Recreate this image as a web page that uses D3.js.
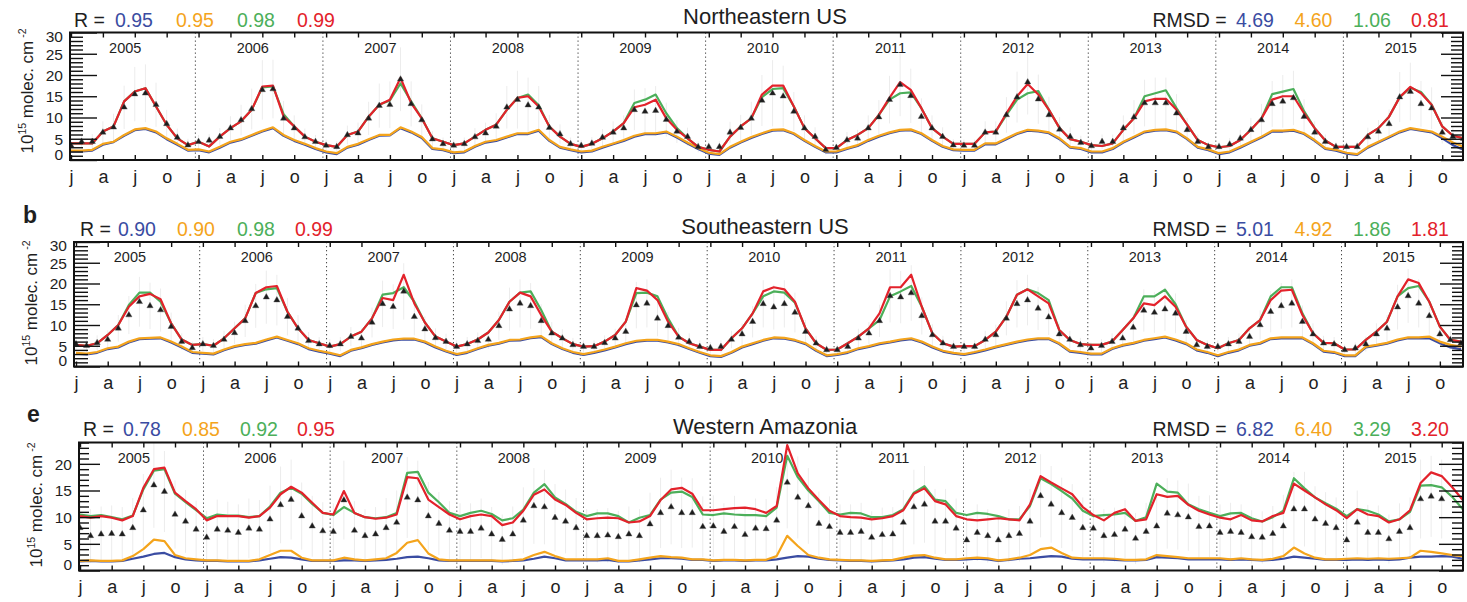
<!DOCTYPE html>
<html>
<head>
<meta charset="utf-8">
<script src="https://cdn.jsdelivr.net/npm/d3@7"></script>
<style>
  html, body { margin: 0; padding: 0; background: #fff; }
  svg text { font-family: "Liberation Sans", Arial, Helvetica, sans-serif; }
</style>
</head>
<body>
<svg id="chart" width="1467" height="602"></svg>
<script>
// Monthly columns (Jan 2005 - Dec 2015), values in 10^15 molec. cm^-2
const years = [2005, 2006, 2007, 2008, 2009, 2010, 2011, 2012, 2013, 2014, 2015];
const quarterLetters = ["j", "a", "j", "o"];

// ---------- Northeastern US ----------
const neR = ["0.95", "0.95", "0.98", "0.99"];
const neRmsd = ["4.69", "4.60", "1.06", "0.81"];
const neRed = [
  3.9,3.9,3.9,6.7,7.9,13.8,16.1,16.9,12.6,8.3,5.1,3.5,
  4.3,3.2,5.5,7.5,9.1,11.8,17.3,17.5,10.2,7.9,5.5,4.3,
  3.5,3.1,5.9,6.7,10.2,13.0,14.2,19.3,13.4,9.8,5.1,4.3,
  3.5,3.9,5.5,7.1,8.3,11.8,14.6,15.0,12.6,7.9,5.5,3.8,
  3.1,3.8,5.1,6.7,8.7,12.4,13.0,14.2,9.8,7.1,5.1,3.1,
  2.4,2.0,5.5,7.9,9.8,15.4,17.5,17.5,12.6,7.5,5.1,2.8,
  2.8,4.7,5.9,7.5,10.6,14.6,18.3,16.5,12.2,7.5,5.5,3.8,
  3.8,3.8,6.5,6.7,11.0,15.0,17.9,15.4,11.8,7.5,4.9,4.3,
  3.5,3.3,3.9,7.1,9.8,13.8,14.4,14.4,11.8,8.3,4.7,3.5,
  3.0,3.3,4.7,7.1,9.8,14.2,15.0,15.0,11.0,7.5,4.6,3.1,
  3.1,3.1,5.9,7.5,10.2,14.8,17.2,15.7,13.0,7.9,5.7,5.1
];
const neGreen = [
  3.9,3.9,3.9,6.7,7.9,13.8,16.1,16.9,12.6,8.3,5.1,3.5,
  4.3,3.2,5.5,7.5,9.1,11.8,17.1,17.3,10.8,7.9,5.5,4.3,
  3.5,3.1,5.9,6.7,10.2,13.0,14.0,18.0,13.8,9.8,5.1,4.3,
  3.5,3.9,5.5,7.1,8.3,11.8,14.6,15.4,12.9,7.9,5.5,3.8,
  3.1,3.8,5.1,6.7,8.7,13.4,14.2,15.4,11.0,7.5,5.1,3.1,
  2.4,2.0,5.5,7.9,9.8,14.8,16.7,16.9,12.6,7.5,5.1,2.8,
  2.8,4.7,5.9,7.5,10.6,14.2,15.7,15.9,12.2,7.5,5.5,3.8,
  3.8,3.8,6.5,6.7,10.6,14.2,15.7,16.2,11.8,7.5,4.9,4.3,
  3.5,3.3,3.9,7.1,9.8,15.0,15.7,16.4,12.2,8.3,4.7,3.5,
  3.0,3.3,4.7,7.1,9.8,15.5,16.1,16.7,11.5,7.5,4.6,3.1,
  3.1,3.1,5.9,7.5,10.2,14.8,17.0,16.0,13.0,7.9,5.7,5.1
];
const neOrange = [
  2.2,2.2,2.4,3.8,4.3,5.9,7.2,7.5,6.7,5.1,3.8,2.4,
  2.5,2.0,3.1,4.3,4.9,5.9,6.9,7.7,5.9,4.7,3.8,2.8,
  2.0,1.6,3.1,3.8,4.9,5.9,5.9,7.7,6.7,5.4,2.8,2.5,
  1.8,2.0,3.3,4.3,4.7,5.5,6.3,6.3,7.1,4.7,3.1,2.5,
  2.0,2.2,3.1,3.9,4.7,5.7,6.3,6.3,6.7,5.5,4.1,2.8,
  1.7,1.4,3.1,4.3,5.4,6.3,7.1,7.2,6.3,4.7,3.3,2.0,
  2.0,2.8,3.5,4.7,5.7,6.5,7.1,7.2,6.3,4.7,3.3,2.5,
  2.4,2.4,3.9,3.9,5.1,6.3,7.1,6.9,6.5,5.1,3.1,2.8,
  2.0,2.0,2.8,4.3,5.5,6.7,7.1,7.2,6.7,5.1,3.1,2.5,
  1.6,2.0,3.1,4.3,5.5,6.9,6.9,7.1,6.3,4.7,2.8,2.4,
  1.7,1.4,3.1,4.3,5.5,6.7,7.5,7.1,6.7,5.5,4.1,3.1
];
const neBlue = [
  2.0,2.0,2.2,3.6,4.2,5.7,7.0,7.3,6.5,4.9,3.6,2.2,
  2.3,1.8,2.9,4.1,4.7,5.7,6.7,7.5,5.7,4.5,3.6,2.6,
  1.8,1.4,2.9,3.6,4.7,5.7,5.8,7.5,6.5,5.2,2.6,2.3,
  1.6,1.8,3.1,4.1,4.5,5.3,6.1,6.1,6.9,4.5,2.9,2.3,
  1.8,2.0,2.9,3.7,4.5,5.5,6.1,6.1,6.5,5.3,3.9,2.6,
  1.5,1.2,2.9,4.1,5.2,6.1,6.9,7.0,6.1,4.5,3.1,1.8,
  1.8,2.6,3.3,4.5,5.5,6.3,6.9,7.0,6.1,4.5,3.1,2.3,
  2.2,2.2,3.7,3.7,4.9,6.1,6.9,6.7,6.3,4.9,2.9,2.6,
  1.8,1.8,2.6,4.1,5.3,6.5,6.9,7.0,6.5,4.9,2.9,2.3,
  1.4,1.8,2.9,4.1,5.3,6.7,6.7,6.9,6.1,4.5,2.6,2.2,
  1.5,1.2,2.9,4.1,5.3,6.5,7.3,6.9,6.5,5.1,3.5,2.4
];
const neObs = [
  3.4,4.3,4.3,6.5,7.7,12.4,15.5,15.7,13.0,8.5,5.3,3.5,
  4.3,4.6,5.5,7.5,9.4,12.0,16.5,16.7,9.8,7.5,5.4,4.3,
  3.4,3.1,5.9,6.3,9.8,12.8,13.0,19.0,13.2,9.4,4.9,3.8,
  3.4,3.8,5.4,6.3,7.9,12.4,14.2,12.9,12.4,7.6,6.1,3.8,
  3.4,3.9,5.3,6.5,7.5,11.8,11.4,11.6,9.5,6.7,5.5,3.1,
  3.1,3.1,6.5,7.6,9.8,14.0,15.7,15.0,11.4,7.5,5.5,2.4,
  2.9,4.7,5.1,7.5,10.1,14.2,17.7,15.1,10.2,7.5,5.5,3.5,
  3.4,3.4,6.5,6.5,10.6,14.8,18.3,14.3,10.6,7.2,5.5,4.1,
  3.3,4.3,4.3,7.5,10.1,13.4,13.4,13.4,11.0,7.1,4.3,3.1,
  3.1,3.7,5.1,7.1,9.4,13.2,13.8,14.6,10.2,6.5,4.3,3.1,
  3.1,3.1,5.4,6.7,8.5,14.8,16.1,13.2,12.2,6.5,5.5,5.0
];
const neErr = [
  1.5,1.6,1.8,2.6,3.2,5.1,6.4,6.8,5.2,3.3,2.1,1.5,
  1.6,1.5,2.0,2.8,3.6,4.8,7.0,6.9,4.1,3.0,2.0,1.6,
  1.4,1.3,2.2,2.5,3.9,5.2,5.5,7.5,5.3,3.7,1.9,1.5,
  1.4,1.5,2.1,2.5,3.1,5.0,6.8,6.5,5.0,3.0,2.3,1.5,
  1.3,1.5,2.0,2.6,3.0,4.8,5.5,5.8,4.0,2.7,2.1,1.3,
  1.3,1.3,2.5,3.0,3.9,6.0,7.8,7.2,4.6,3.0,2.2,1.1,
  1.2,1.9,2.0,3.0,4.0,5.6,7.4,6.4,4.3,3.0,2.2,1.4,
  1.4,1.4,2.6,2.6,4.2,6.0,7.6,5.8,4.3,2.9,2.2,1.6,
  1.3,1.7,1.7,3.0,4.0,5.5,6.0,6.0,4.5,2.8,1.7,1.2,
  1.2,1.5,2.0,2.8,3.8,5.4,6.2,6.4,4.1,2.6,1.7,1.2,
  1.2,1.2,2.2,2.7,3.4,5.9,6.8,5.4,4.9,2.6,2.2,2.0
];

// ---------- Southeastern US ----------
const seR = ["0.90", "0.90", "0.98", "0.99"];
const seRmsd = ["5.01", "4.92", "1.86", "1.81"];
const seRed = [
  5.2,5.0,5.6,7.6,10.0,14.4,16.9,17.5,16.2,10.4,6.5,5.2,
  5.4,5.0,6.8,9.2,11.6,17.7,19.1,19.4,13.2,9.2,6.4,5.6,
  4.8,5.4,7.2,8.4,11.6,16.5,16.0,22.1,15.2,10.6,7.2,6.0,
  4.8,5.4,6.5,8.2,11.2,15.6,17.8,16.9,12.4,8.4,6.8,5.4,
  4.8,4.9,6.0,7.6,10.8,18.9,18.3,16.0,10.8,7.2,5.6,4.8,
  4.0,4.0,6.8,9.2,12.8,18.1,19.1,18.6,15.6,9.2,5.6,4.0,
  4.1,5.6,7.2,9.2,12.8,19.1,19.1,22.1,14.4,8.0,5.6,4.8,
  4.9,4.9,6.4,8.4,12.0,17.3,18.6,16.9,15.2,8.8,6.4,5.4,
  5.2,5.2,6.0,8.8,11.6,15.2,14.8,16.9,14.4,9.6,6.4,5.2,
  4.4,5.6,6.4,9.2,11.2,16.0,18.3,18.5,12.4,8.0,5.7,5.6,
  4.1,4.1,6.4,8.4,10.8,16.9,21.0,20.1,15.6,9.6,6.4,6.0
];
const seGreen = [
  5.2,5.0,5.6,7.6,10.0,14.8,17.8,17.8,15.6,10.4,6.5,5.2,
  5.4,5.0,6.8,9.2,11.6,17.7,18.6,18.9,13.2,9.2,6.4,5.6,
  4.8,5.4,7.2,8.4,11.6,17.3,17.7,19.1,15.6,10.6,7.2,6.0,
  4.8,5.4,6.5,8.2,11.2,15.6,17.8,18.1,13.6,8.4,6.8,5.4,
  4.8,4.9,6.0,7.6,10.8,17.7,17.8,16.9,11.6,7.2,5.6,4.8,
  4.0,4.0,6.8,9.2,12.8,16.9,18.1,17.8,15.4,9.2,5.6,4.0,
  4.1,5.6,7.2,9.2,11.2,16.9,18.1,19.4,14.4,8.0,5.6,4.8,
  4.9,4.9,6.4,8.4,12.0,17.3,18.6,17.7,16.0,8.8,6.4,5.4,
  5.2,5.2,6.0,8.8,11.6,16.9,16.9,18.5,15.0,9.6,6.4,5.2,
  4.4,5.6,6.4,9.2,11.2,16.9,19.1,19.1,12.8,8.0,5.7,5.6,
  4.1,4.1,6.4,8.4,10.8,16.9,18.9,19.4,15.6,9.6,6.4,6.0
];
const seOrange = [
  3.3,3.1,3.5,4.4,4.8,6.0,6.8,6.9,7.0,6.0,4.8,3.5,
  3.3,3.1,4.1,4.9,5.4,5.7,6.5,7.2,6.4,5.6,4.4,3.8,
  3.3,2.7,4.0,4.6,5.4,6.0,6.5,6.7,6.7,6.0,4.8,3.8,
  3.0,3.5,4.4,5.2,5.7,6.4,6.5,7.0,7.3,5.6,4.4,3.5,
  3.0,3.5,4.1,4.8,5.6,6.2,6.4,6.4,6.0,5.4,4.4,3.5,
  2.7,2.5,3.5,4.8,5.6,6.4,7.0,6.9,6.4,5.6,4.0,2.7,
  3.0,3.5,4.4,4.9,5.6,6.0,6.5,6.8,6.0,4.8,3.8,3.3,
  3.0,3.5,4.1,4.8,5.4,6.0,6.5,6.8,6.8,5.6,3.8,3.5,
  3.1,3.1,4.4,5.2,5.7,6.4,6.8,7.2,6.5,5.6,4.1,3.5,
  2.7,3.5,4.1,5.2,5.7,6.8,7.0,7.0,7.0,5.6,3.8,3.5,
  2.7,2.7,4.8,5.2,5.7,6.5,7.0,7.0,7.2,6.0,5.2,4.8
];
const seBlue = [
  3.1,2.9,3.3,4.2,4.6,5.8,6.6,6.7,6.8,5.8,4.6,3.3,
  3.1,2.9,3.9,4.7,5.2,5.5,6.3,7.0,6.2,5.4,4.2,3.6,
  3.1,2.5,3.8,4.4,5.2,5.8,6.3,6.5,6.5,5.8,4.6,3.6,
  2.8,3.3,4.2,5.0,5.5,6.2,6.3,6.8,7.1,5.4,4.2,3.3,
  2.8,3.3,3.9,4.6,5.4,6.0,6.2,6.2,5.8,5.2,4.2,3.3,
  2.5,2.3,3.3,4.6,5.4,6.2,6.8,6.7,6.2,5.4,3.8,2.5,
  2.8,3.3,4.2,4.7,5.4,5.8,6.3,6.6,5.8,4.6,3.6,3.1,
  2.8,3.3,3.9,4.6,5.2,5.8,6.3,6.6,6.6,5.4,3.6,3.3,
  2.9,2.9,4.2,5.0,5.5,6.2,6.6,7.0,6.3,5.4,3.9,3.3,
  2.5,3.3,3.9,5.0,5.5,6.6,6.8,6.8,6.8,5.4,3.6,3.3,
  2.5,2.5,4.6,5.0,5.5,6.3,6.8,6.8,6.8,5.6,4.6,4.2
];
const seObs = [
  5.4,5.0,5.7,6.5,9.2,12.4,15.6,14.6,13.6,9.6,6.0,4.5,
  5.4,5.0,6.5,8.1,11.0,14.6,16.7,16.0,12.0,9.2,6.2,5.4,
  5.0,5.4,7.2,6.8,10.6,15.1,14.4,18.1,12.0,9.0,6.9,6.0,
  4.8,5.4,6.2,6.5,9.8,13.8,15.2,14.6,11.0,8.0,6.8,5.2,
  4.8,4.8,5.7,6.8,8.4,14.8,15.2,11.6,9.8,7.0,6.0,4.8,
  4.5,4.8,6.5,7.8,10.8,15.1,14.3,15.1,13.0,8.4,5.6,4.0,
  4.0,4.8,6.8,8.0,11.0,17.0,16.7,17.7,12.2,7.6,5.6,4.8,
  4.8,4.8,6.5,7.6,11.6,15.1,16.0,14.0,11.9,7.8,6.5,5.2,
  4.4,5.0,6.0,6.8,9.4,13.5,13.0,13.8,12.8,8.4,5.2,4.8,
  4.8,5.4,6.0,7.2,10.0,13.2,14.6,15.2,10.8,7.8,5.6,5.4,
  4.0,4.4,5.4,7.8,9.2,14.3,17.0,15.2,12.2,7.8,6.4,5.6
];
const seErr = [
  1.6,1.5,1.8,2.2,3.2,4.6,6.0,5.6,5.2,3.4,2.0,1.5,
  1.7,1.6,2.1,2.7,3.9,5.3,6.4,6.1,4.5,3.2,2.1,1.7,
  1.6,1.7,2.3,2.3,3.6,5.6,5.4,6.8,4.5,3.1,2.3,1.9,
  1.5,1.7,2.0,2.2,3.4,5.2,5.8,5.5,4.0,2.7,2.2,1.7,
  1.5,1.5,1.8,2.3,2.9,5.6,5.8,4.3,3.4,2.3,2.0,1.5,
  1.4,1.5,2.1,2.6,3.8,5.7,5.4,5.7,4.8,2.8,1.8,1.3,
  1.3,1.5,2.3,2.7,3.9,6.4,6.3,6.7,4.5,2.6,1.8,1.5,
  1.5,1.5,2.1,2.5,4.1,5.7,6.1,5.2,4.3,2.6,2.1,1.7,
  1.4,1.6,2.0,2.3,3.3,5.1,4.9,5.2,4.8,2.8,1.7,1.5,
  1.5,1.7,2.0,2.4,3.5,5.0,5.5,5.8,3.9,2.6,1.8,1.7,
  1.3,1.4,1.8,2.6,3.2,5.4,6.5,5.8,4.5,2.6,2.1,1.8
];

// ---------- Western Amazonia ----------
const waR = ["0.78", "0.85", "0.92", "0.95"];
const waRmsd = ["6.82", "6.40", "3.29", "3.20"];
const waRed = [
  10.2,9.9,10.2,9.9,9.4,10.2,15.5,19.0,19.3,14.6,13.0,11.5,
  9.4,10.2,10.2,10.2,9.9,10.2,11.8,14.3,15.7,14.6,12.7,10.8,
  10.5,14.9,10.8,10.0,9.7,9.9,10.5,17.5,17.3,13.3,11.9,10.5,
  9.6,10.2,10.5,10.2,8.5,9.0,11.2,14.2,15.2,13.3,12.3,10.8,
  9.6,9.8,9.9,9.8,9.0,9.2,10.2,13.2,15.2,15.5,14.4,11.3,
  11.3,11.5,11.7,11.8,11.5,10.8,12.1,23.5,18.2,15.4,13.2,11.2,
  10.2,10.0,9.9,9.6,9.8,10.2,11.3,14.4,15.4,13.0,12.4,10.2,
  9.6,9.4,9.6,9.8,9.6,9.4,12.4,17.7,16.5,15.4,14.3,11.9,
  10.4,9.4,10.8,11.5,9.3,9.6,14.3,13.8,14.0,12.3,11.2,10.5,
  9.9,9.6,10.4,9.4,9.2,10.2,10.8,16.3,15.0,13.7,12.4,11.3,
  9.8,11.5,10.5,10.2,9.0,9.6,11.3,16.4,18.4,17.7,15.6,13.2
];
const waGreen = [
  10.5,10.2,10.4,10.0,9.6,10.3,15.2,18.7,19.0,14.4,12.8,11.3,
  9.8,10.5,10.3,10.3,10.0,10.2,12.0,14.6,15.5,14.4,12.5,10.8,
  10.4,11.9,10.8,10.0,9.8,10.0,10.8,18.3,18.5,14.6,12.8,10.8,
  10.2,10.8,11.2,10.6,9.4,9.8,11.4,14.6,16.2,13.7,12.5,11.0,
  10.2,10.7,10.7,10.2,9.0,9.9,10.4,13.3,14.6,14.8,13.8,10.5,
  10.4,10.7,10.5,10.4,10.4,10.2,11.8,21.5,17.5,15.0,13.0,10.8,
  10.5,10.8,10.7,10.0,10.0,10.4,11.5,14.6,15.8,13.3,13.0,10.8,
  10.4,10.8,10.6,10.2,9.6,9.6,12.1,17.3,16.2,14.9,13.5,11.2,
  10.2,10.4,10.5,10.8,9.3,10.0,16.3,14.8,14.6,12.4,11.5,10.8,
  10.2,10.7,10.8,9.8,9.2,10.0,11.2,17.3,15.4,13.7,12.6,11.6,
  10.2,11.5,11.2,10.5,9.2,9.6,11.0,15.9,16.0,15.6,13.8,11.5
];
const waOrange = [
  1.8,1.9,1.8,1.8,1.9,2.7,4.0,5.8,5.5,2.9,2.3,2.1,
  1.9,1.9,1.8,1.8,1.8,2.1,2.9,3.7,3.7,2.4,1.9,1.9,
  1.9,2.4,2.1,1.9,2.1,2.3,3.3,5.2,5.7,3.2,2.1,1.9,
  1.9,1.9,1.9,1.9,1.8,1.9,2.1,2.9,3.5,2.7,2.1,2.1,
  2.1,2.1,2.3,1.8,1.8,2.1,2.4,2.7,2.5,2.4,2.1,2.1,
  1.9,2.0,2.0,1.9,2.0,2.0,2.7,6.5,4.6,2.9,2.4,2.1,
  2.0,1.9,1.9,1.8,1.9,2.0,2.4,2.8,2.9,2.4,2.1,2.1,
  2.3,2.4,2.3,1.9,2.1,2.4,2.9,4.0,4.3,3.3,2.4,2.3,
  2.3,2.3,2.2,2.0,2.0,2.1,2.9,2.7,2.5,2.3,2.3,2.3,
  2.3,2.1,2.3,2.1,2.0,2.2,2.7,4.3,3.2,2.4,2.1,2.1,
  2.2,2.3,2.2,2.3,2.2,2.3,2.4,3.7,3.5,3.2,2.9,2.7
];
const waBlue = [
  1.7,1.8,1.7,1.7,1.8,2.2,2.6,3.1,3.3,2.5,2.1,1.9,
  1.8,1.8,1.7,1.7,1.7,1.9,2.2,2.5,2.4,2.1,1.8,1.8,
  1.8,1.9,1.9,1.8,1.9,2.0,2.2,2.5,2.6,2.3,1.9,1.8,
  1.8,1.8,1.8,1.8,1.7,1.8,1.9,2.2,2.6,2.3,1.9,1.9,
  1.9,1.9,2.0,1.7,1.7,1.9,2.1,2.3,2.3,2.2,2.0,2.0,
  1.8,1.9,1.9,1.8,1.9,1.9,2.1,2.4,2.7,2.6,2.2,2.0,
  1.9,1.8,1.8,1.7,1.8,1.9,2.1,2.4,2.5,2.2,2.0,2.0,
  2.1,2.2,2.1,1.8,2.0,2.2,2.3,2.5,2.7,2.6,2.2,2.1,
  2.1,2.1,2.0,1.9,1.9,2.0,2.5,2.4,2.3,2.1,2.1,2.1,
  2.1,2.0,2.1,2.0,1.9,2.0,2.2,2.6,2.4,2.2,2.0,2.0,
  2.0,2.1,2.0,2.1,2.0,2.1,2.4,2.6,2.6,2.7,2.6,2.2
];
const waObs = [
  8.0,6.5,6.8,6.9,6.8,8.0,11.3,16.0,14.8,10.5,9.2,7.7,
  6.2,7.7,7.5,7.1,7.9,7.7,9.6,12.3,13.3,10.2,8.3,7.4,
  7.3,13.2,7.5,6.5,6.8,8.0,9.0,13.7,13.2,10.2,8.8,7.5,
  7.3,7.3,7.9,6.8,5.8,6.8,9.4,12.1,11.9,9.9,9.2,8.0,
  6.5,6.5,6.6,6.3,6.8,6.5,8.7,10.8,11.9,10.8,10.8,8.2,
  8.3,7.3,8.2,6.7,7.9,7.8,9.4,16.5,13.7,12.1,8.8,8.2,
  7.1,7.1,7.3,6.2,6.7,6.8,9.0,11.9,12.4,9.2,9.2,7.9,
  5.7,7.1,6.5,5.7,6.5,6.9,9.2,14.0,12.4,10.8,9.9,8.0,
  7.9,6.5,6.7,7.7,6.0,7.3,8.3,10.7,10.4,10.0,8.2,8.3,
  7.1,7.3,7.1,6.3,6.2,6.9,8.3,11.5,11.5,9.6,8.8,8.0,
  5.7,9.0,7.1,7.1,5.9,7.3,8.0,13.4,13.9,13.4,null,null
];
const waErr = [
  5.5,5.0,5.2,5.3,5.1,5.6,6.8,8.0,7.6,6.4,5.9,5.4,
  5.0,5.6,5.4,5.3,5.6,5.5,6.3,7.2,7.5,6.3,5.7,5.4,
  5.3,7.4,5.5,5.0,5.1,5.6,6.0,7.6,7.4,6.4,5.9,5.5,
  5.3,5.3,5.6,5.1,4.7,5.2,6.2,7.1,7.0,6.3,6.0,5.6,
  5.0,5.0,5.1,4.9,5.2,5.0,5.9,6.6,7.0,6.6,6.5,5.7,
  5.8,5.3,5.8,5.1,5.6,5.6,6.3,8.6,7.7,7.1,6.0,5.7,
  5.3,5.3,5.4,4.9,5.1,5.1,6.1,7.0,7.2,6.1,6.1,5.6,
  4.6,5.3,5.0,4.6,5.0,5.2,6.1,7.8,7.2,6.6,6.3,5.7,
  5.6,5.0,5.1,5.5,4.8,5.4,5.9,6.6,6.5,6.3,5.8,5.8,
  5.3,5.4,5.3,5.0,4.9,5.2,5.9,7.0,7.0,6.2,5.9,5.7,
  4.6,6.0,5.2,5.1,4.6,5.3,5.7,7.4,7.6,7.4,null,null
];

// ---------- drawing ----------
const COLORS = { blue: "#3a4ca2", orange: "#f4a41c", green: "#4caf5a", red: "#e3222b" };
const INK = "#1e1e1e";

const panels = [
  {
    title: "Northeastern US", rVals: neR, rmsdVals: neRmsd,
    series: { blue: neBlue, orange: neOrange, green: neGreen, red: neRed },
    obs: neObs, err: neErr,
    box: { l: 70, r: 1463, t: 32.5, b: 160 }, xr: [71, 1463.5], ymax: 30,
    tick: { lMaj: 27, lMin: 13, rMaj: 22, rMin: 12 },
    head: 26.5, titleY: 23.5, rX: 74, rOff: [41, 102, 163, 223],
    yTitleY: 91, letter: null
  },
  {
    title: "Southeastern US", rVals: seR, rmsdVals: seRmsd,
    series: { blue: seBlue, orange: seOrange, green: seGreen, red: seRed },
    obs: seObs, err: seErr,
    box: { l: 74, r: 1463, t: 242, b: 366.5 }, xr: [76, 1461], ymax: 30,
    tick: { lMaj: 26, lMin: 14, rMaj: 23, rMin: 11 },
    head: 236, titleY: 233.5, rX: 80, rOff: [38, 97, 157, 215],
    yTitleY: 303, letter: { t: "b", x: 23, y: 223 }
  },
  {
    title: "Western Amazonia", rVals: waR, rmsdVals: waRmsd,
    series: { blue: waBlue, orange: waOrange, green: waGreen, red: waRed },
    obs: waObs, err: waErr,
    box: { l: 79, r: 1463, t: 442.5, b: 570.5 }, xr: [80, 1462.8], ymax: 24,
    tick: { lMaj: 21, lMin: 10, rMaj: 24, rMin: 11 },
    head: 436, titleY: 433.5, rX: 83, rOff: [40, 99, 157, 214],
    yTitleY: 505, letter: { t: "e", x: 27, y: 422 }
  }
];

const svg = d3.select("#chart");
svg.append("rect").attr("width", 1467).attr("height", 602).attr("fill", "#fff");

function drawPanel(p) {
  const B = p.box;
  const n = p.series.red.length;
  const x = d3.scaleLinear().domain([0, n - 1]).range(p.xr);
  const y = d3.scaleLinear().domain([0, p.ymax]).range([B.b, B.t]);
  const g = svg.append("g");

  const clipId = "clip" + Math.round(B.t);
  svg.append("clipPath").attr("id", clipId)
    .append("rect").attr("x", B.l).attr("y", B.t).attr("width", B.r - B.l).attr("height", B.b - B.t);
  const plot = g.append("g").attr("clip-path", `url(#${clipId})`);

  const obsPts = p.obs.map((v, i) => ({ i, v, e: p.err[i] })).filter(d => d.v != null);

  // spread of the observations
  plot.selectAll("line.err").data(obsPts).join("line")
    .attr("class", "err")
    .attr("x1", d => x(d.i)).attr("x2", d => x(d.i))
    .attr("y1", d => y(d.v - d.e)).attr("y2", d => y(d.v + d.e))
    .attr("stroke", "#ececec").attr("stroke-width", 1);

  // year separators
  const seps = years.slice(1).map((yr, k) => 12 * (k + 1) - 0.3);
  plot.selectAll("line.sep").data(seps).join("line")
    .attr("class", "sep")
    .attr("x1", d => x(d)).attr("x2", d => x(d))
    .attr("y1", B.t).attr("y2", B.b)
    .attr("stroke", "#444").attr("stroke-width", 1).attr("stroke-dasharray", "1.3,2.7");

  // model series
  const line = d3.line().x((d, i) => x(i)).y(d => y(d));
  ["blue", "orange", "green", "red"].forEach(name => {
    plot.append("path").datum(p.series[name])
      .attr("d", line)
      .attr("fill", "none")
      .attr("stroke", COLORS[name])
      .attr("stroke-width", 2.2)
      .attr("stroke-linejoin", "round");
  });

  // observations
  const tri = d3.symbol(d3.symbolTriangle, 17);
  plot.selectAll("path.obs").data(obsPts).join("path")
    .attr("class", "obs")
    .attr("d", tri)
    .attr("transform", d => `translate(${x(d.i)},${y(d.v)})`)
    .attr("fill", "#1c1c1c")
    .attr("stroke", "#555").attr("stroke-width", 0.4);

  // axes
  const majors = d3.range(0, p.ymax + 1, 5);
  const minors = d3.range(0, p.ymax + 1).filter(v => v % 5 !== 0);
  const styleAxis = sel => {
    sel.select(".domain").remove();
    sel.selectAll(".tick line").attr("stroke", "#111").attr("stroke-width", 1.4);
    sel.selectAll("text").attr("fill", INK).attr("font-family", null);
  };

  const leftMaj = g.append("g").attr("transform", `translate(${B.l},0)`)
    .call(d3.axisLeft(y).tickValues(majors).tickSize(-p.tick.lMaj).tickPadding(7).tickFormat(d3.format("d")));
  styleAxis(leftMaj);
  leftMaj.selectAll("text").attr("font-size", 15.5)
    .attr("dy", d => d === 0 ? "-0.05em" : (d === 30 ? "0.55em" : "0.35em"));
  g.append("g").attr("transform", `translate(${B.l},0)`)
    .call(d3.axisLeft(y).tickValues(minors).tickSize(-p.tick.lMin).tickFormat(""))
    .call(styleAxis);
  g.append("g").attr("transform", `translate(${B.r},0)`)
    .call(d3.axisRight(y).tickValues(majors).tickSize(-p.tick.rMaj).tickFormat(""))
    .call(styleAxis);
  g.append("g").attr("transform", `translate(${B.r},0)`)
    .call(d3.axisRight(y).tickValues(minors).tickSize(-p.tick.rMin).tickFormat(""))
    .call(styleAxis);

  const quarters = d3.range(0, n, 3);
  const bottom = g.append("g").attr("transform", `translate(0,${B.b})`)
    .call(d3.axisBottom(x).tickValues(quarters).tickSize(-5).tickPadding(10)
      .tickFormat(d => quarterLetters[(d % 12) / 3]));
  styleAxis(bottom);
  bottom.selectAll("text").attr("font-size", 18);
  g.append("g").attr("transform", `translate(0,${B.t})`)
    .call(d3.axisTop(x).tickValues(quarters).tickSize(-5).tickFormat(""))
    .call(styleAxis);

  // frame
  g.append("rect")
    .attr("x", B.l).attr("y", B.t).attr("width", B.r - B.l).attr("height", B.b - B.t)
    .attr("fill", "none").attr("stroke", "#111").attr("stroke-width", 2);

  // year labels
  g.selectAll("text.yr").data(years).join("text")
    .attr("class", "yr")
    .attr("x", (d, k) => x(12 * k + 5.1)).attr("y", B.t + 20)
    .attr("text-anchor", "middle").attr("font-size", 14.5).attr("fill", INK)
    .text(d => d);

  // y title
  const yt = g.append("text")
    .attr("transform", `translate(${B.l - 37},${p.yTitleY}) rotate(-90)`)
    .attr("text-anchor", "middle").attr("font-size", 17).attr("fill", INK);
  yt.append("tspan").text("10");
  yt.append("tspan").attr("font-size", 10.5).attr("dy", -7).text("15");
  yt.append("tspan").attr("dy", 7).text(" molec. cm");
  yt.append("tspan").attr("font-size", 10.5).attr("dy", -7).text(" -2");

  // header: title, correlations, RMSD
  g.append("text").attr("x", 765).attr("y", p.titleY)
    .attr("text-anchor", "middle").attr("font-size", 22).attr("fill", INK)
    .text(p.title);

  const order = ["blue", "orange", "green", "red"];
  g.append("text").attr("x", p.rX).attr("y", p.head)
    .attr("font-size", 19.5).attr("fill", INK).text("R =");
  g.selectAll("text.rv").data(p.rVals).join("text")
    .attr("class", "rv")
    .attr("x", (d, k) => p.rX + p.rOff[k]).attr("y", p.head)
    .attr("font-size", 19.5).attr("fill", (d, k) => COLORS[order[k]])
    .text(d => d);

  const rmsdX = [1236, 1294.5, 1353, 1411];
  g.append("text").attr("x", 1152.5).attr("y", p.head)
    .attr("font-size", 19.5).attr("fill", INK).text("RMSD =");
  g.selectAll("text.rm").data(p.rmsdVals).join("text")
    .attr("class", "rm")
    .attr("x", (d, k) => rmsdX[k]).attr("y", p.head)
    .attr("font-size", 19.5).attr("fill", (d, k) => COLORS[order[k]])
    .text(d => d);

  if (p.letter) {
    g.append("text").attr("x", p.letter.x).attr("y", p.letter.y)
      .attr("font-size", 23).attr("font-weight", "bold").attr("fill", INK)
      .text(p.letter.t);
  }
}

panels.forEach(drawPanel);
</script>
</body>
</html>
